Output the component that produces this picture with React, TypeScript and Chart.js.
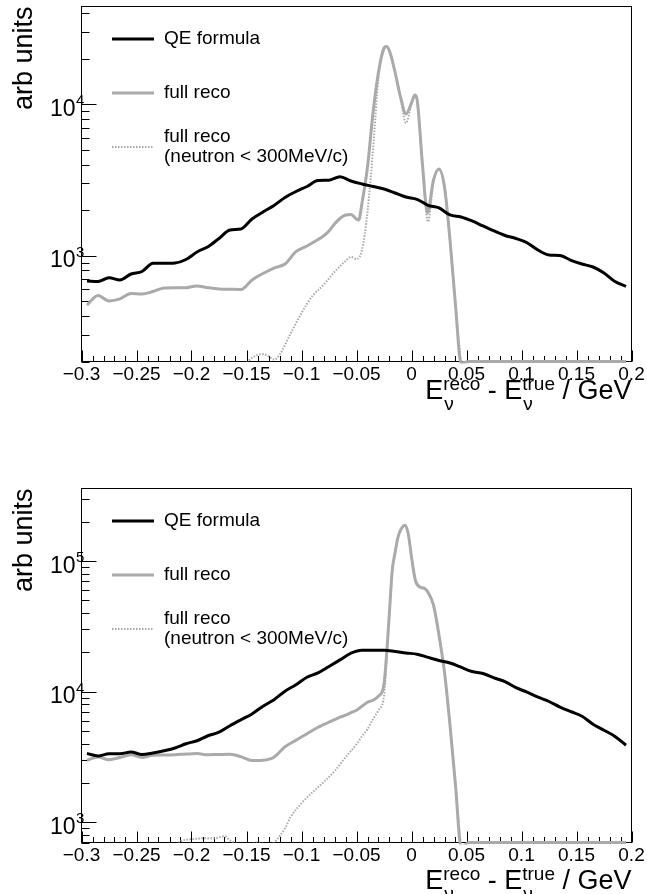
import React, { useEffect, useRef } from 'react';
import { Chart, registerables } from 'chart.js';

Chart.register(...registerables);

const FONT = "'Liberation Sans', Arial, Helvetica, sans-serif";
const GREY = '#aaaaaa';

// ---------- shared x bin centres for QE formula curves ----------
const qeX = [
  -0.295, -0.285, -0.275, -0.265, -0.255, -0.245, -0.235, -0.225, -0.215, -0.205,
  -0.195, -0.185, -0.175, -0.165, -0.155, -0.145, -0.135, -0.125, -0.115, -0.105,
  -0.095, -0.085, -0.075, -0.065, -0.055, -0.045, -0.035, -0.025, -0.015, -0.005,
  0.005, 0.015, 0.025, 0.035, 0.045, 0.055, 0.065, 0.075, 0.085, 0.095,
  0.105, 0.115, 0.125, 0.135, 0.145, 0.155, 0.165, 0.175, 0.185, 0.195,
];

// ---------- top panel ----------
const topQE = [
  681, 675, 716, 691, 757, 786, 891, 891, 895, 944,
  1058, 1147, 1299, 1478, 1501, 1747, 1944, 2146, 2423, 2655,
  2865, 3139, 3153, 3325, 3115, 2976, 2865, 2758, 2595, 2442,
  2358, 2152, 2066, 1857, 1801, 1695, 1571, 1456, 1360, 1299,
  1218, 1090, 1011, 1003, 932, 881, 842, 769, 675, 626,
];

const topRecoX = [
  -0.295, -0.285, -0.275, -0.265, -0.255, -0.245, -0.235, -0.225, -0.215, -0.205,
  -0.195, -0.185, -0.175, -0.165, -0.155, -0.145, -0.135, -0.125, -0.115, -0.105,
  -0.095, -0.085, -0.08, -0.075, -0.07, -0.065, -0.06, -0.055, -0.05, -0.048,
  -0.045, -0.04, -0.035, -0.03, -0.025, -0.023, -0.02, -0.015, -0.01, -0.005,
  0, 0.003, 0.005, 0.01, 0.0145, 0.02, 0.025, 0.03, 0.035, 0.04,
  0.045, 0.053, 0.075, 0.095, 0.115, 0.135, 0.155, 0.175, 0.195,
];
const topReco = [
  472, 546, 502, 518, 563, 558, 580, 612, 615, 615,
  631, 615, 603, 600, 598, 690, 763, 829, 881, 1063,
  1159, 1279, 1349, 1456, 1620, 1761, 1857, 1871, 1747, 1721,
  2229, 3854, 8761, 16340, 23540, 24080, 22490, 16340, 11175, 8629,
  10200, 11520, 10840, 3973, 1914, 3162, 3738, 2843, 1270, 472,
  196, 200, 200, 200, 200, 200, 200, 200, 200,
];

const topNeutronX = [
  -0.16, -0.15, -0.145, -0.14, -0.135, -0.13, -0.125, -0.12, -0.11, -0.1,
  -0.09, -0.08, -0.07, -0.06, -0.055, -0.05, -0.045, -0.04, -0.035, -0.03,
  -0.025, -0.023, -0.02, -0.015, -0.01, -0.005, 0, 0.003, 0.005, 0.01,
  0.015, 0.02, 0.025, 0.03, 0.035, 0.04, 0.045,
];
const topNeutron = [
  150, 195, 211, 221, 224, 217, 206, 221, 305, 418,
  542, 641, 780, 923, 980, 951, 1090, 1950, 4991, 15000,
  23000, 24000, 22490, 16340, 11000, 7524, 10000, 11400, 10700, 3900,
  1677, 3100, 3700, 2800, 1250, 465, 196,
];

// ---------- bottom panel ----------
const botQE = [
  3360, 3221, 3349, 3349, 3451, 3302, 3396, 3531, 3709, 3996,
  4213, 4601, 4894, 5489, 6101, 6760, 7744, 8683, 10090, 11315,
  12913, 13937, 15603, 17523, 19725, 20797, 20797, 20797, 20360, 19797,
  19384, 18316, 17340, 16593, 15410, 14283, 13791, 12779, 11930, 10732,
  9930, 9075, 8413, 7621, 7026, 6491, 5636, 5070, 4545, 3890,
];

const botRecoX = [
  -0.295, -0.285, -0.275, -0.265, -0.255, -0.245, -0.235, -0.225, -0.215, -0.205,
  -0.195, -0.185, -0.175, -0.165, -0.155, -0.145, -0.135, -0.125, -0.115, -0.105,
  -0.095, -0.085, -0.08, -0.075, -0.07, -0.065, -0.06, -0.055, -0.05, -0.045,
  -0.04, -0.035, -0.03, -0.025, -0.0225, -0.02, -0.0175, -0.015, -0.0125, -0.01,
  -0.006, -0.003, 0, 0.0035, 0.0075, 0.012, 0.015, 0.02, 0.025, 0.03,
  0.035, 0.04, 0.045, 0.053, 0.075, 0.095, 0.115, 0.135, 0.155, 0.175,
  0.195,
];
const botReco = [
  2987, 3166, 3013, 3132, 3290, 3132, 3261, 3272, 3290, 3331,
  3360, 3290, 3307, 3319, 3177, 2971, 2987, 3148, 3789, 4250,
  4766, 5346, 5586, 5838, 6101, 6377, 6606, 6904, 7215, 7744,
  8309, 8607, 9237, 11415, 20080, 41390, 85310, 115200, 150100, 172800,
  188700, 163000, 107900, 71530, 63540, 61770, 57870, 46010, 27100, 14110,
  5538, 1921, 650, 700, 700, 700, 700, 700, 700, 700,
  700,
];

const botNeutronX = [
  -0.22, -0.21, -0.2, -0.19, -0.18, -0.17, -0.165, -0.16, -0.15, -0.14,
  -0.13, -0.125, -0.12, -0.115, -0.11, -0.1, -0.09, -0.08, -0.07, -0.06,
  -0.05, -0.045, -0.04, -0.035, -0.03, -0.025, -0.0225, -0.02, -0.0175, -0.015,
  -0.0125, -0.01, -0.006, -0.003, 0, 0.0035, 0.0075, 0.012, 0.015, 0.02,
  0.025, 0.03, 0.035, 0.04, 0.045,
];
const botNeutron = [
  600, 715, 741, 753, 753, 781, 727, 690, 680, 700,
  670, 700, 781, 899, 1092, 1398, 1698, 2025, 2459, 3148,
  3960, 4560, 5159, 6156, 7215, 9237, 18000, 40000, 84000, 114000,
  149000, 171000, 187000, 161000, 106000, 70000, 62500, 61000, 57000, 45500,
  26800, 14000, 5500, 1900, 650,
];

const LEGEND_LABELS = ['QE formula', 'full reco', 'full reco\n(neutron < 300MeV/c)'];
const Y_TITLE = 'arb units';

interface Panel {
  qe: number[];
  recoX: number[];
  reco: number[];
  nX: number[];
  neutron: number[];
  yMin: number;
  yMax: number;
  padTop: number;
  xAxisH: number;
  titleDrop: number;
}

const panels: Panel[] = [
  { qe: topQE, recoX: topRecoX, reco: topReco, nX: topNeutronX, neutron: topNeutron,
    yMin: 200, yMax: 44250, padTop: 6.5, xAxisH: 85.5, titleDrop: 37 },
  { qe: botQE, recoX: botRecoX, reco: botReco, nX: botNeutronX, neutron: botNeutron,
    yMin: 700, yMax: 360000, padTop: 41.5, xAxisH: 51.5, titleDrop: 46 },
];

function fmtX(v: number): string {
  const r = Math.round(v * 1000) / 1000;
  if (r === 0) return '0';
  return (r < 0 ? '\u2212' : '') + String(Math.abs(r));
}

function makePlugin(p: Panel) {
  return {
    id: 'rootStyle',
    beforeDatasetsDraw(chart: any) {
      const { ctx, chartArea: a, scales } = chart;
      const xs = scales.x;
      const ys = scales.y;
      ctx.save();
      ctx.strokeStyle = '#000';
      ctx.lineWidth = 1;
      ctx.strokeRect(a.left, a.top, a.right - a.left, a.bottom - a.top);
      ctx.beginPath();
      const majors: number[] = xs.ticks.map((t: any) => t.value);
      for (let i = 0; i < majors.length; i++) {
        const px = Math.round(xs.getPixelForValue(majors[i])) + 0.5;
        ctx.moveTo(px, a.bottom);
        ctx.lineTo(px, a.bottom - 11);
        if (i < majors.length - 1) {
          for (let j = 1; j < 5; j++) {
            const v = majors[i] + ((majors[i + 1] - majors[i]) * j) / 5;
            const q = Math.round(xs.getPixelForValue(v)) + 0.5;
            ctx.moveTo(q, a.bottom);
            ctx.lineTo(q, a.bottom - 5.5);
          }
        }
      }
      const e0 = Math.floor(Math.log10(p.yMin));
      const e1 = Math.ceil(Math.log10(p.yMax));
      for (let e = e0; e <= e1; e++) {
        for (let m = 1; m <= 9; m++) {
          const v = m * Math.pow(10, e);
          if (v < p.yMin || v > p.yMax) continue;
          const py = Math.round(ys.getPixelForValue(v)) + 0.5;
          ctx.moveTo(a.left, py);
          ctx.lineTo(a.left + (m === 1 ? 15 : 8), py);
        }
      }
      ctx.stroke();

      // y tick labels 10^n
      ctx.fillStyle = '#000';
      ctx.textBaseline = 'alphabetic';
      for (let e = e0; e <= e1; e++) {
        const v = Math.pow(10, e);
        if (v < p.yMin || v > p.yMax) continue;
        const py = ys.getPixelForValue(v);
        ctx.font = `23px ${FONT}`;
        ctx.textAlign = 'right';
        ctx.fillText('10', 75.5, py + 11.5);
        ctx.font = `15px ${FONT}`;
        ctx.textAlign = 'left';
        ctx.fillText(String(e), 76, py + 1);
      }
      ctx.restore();
    },
    afterDraw(chart: any) {
      const { ctx, chartArea: a } = chart;
      ctx.save();
      ctx.fillStyle = '#000';
      // y title
      ctx.save();
      ctx.translate(32, a.top);
      ctx.rotate(-Math.PI / 2);
      ctx.font = `27px ${FONT}`;
      ctx.textAlign = 'right';
      ctx.textBaseline = 'alphabetic';
      ctx.fillText(Y_TITLE, 0, 0);
      ctx.restore();

      // x title: E_nu^reco - E_nu^true / GeV
      const big = `27px ${FONT}`;
      const small = `19px ${FONT}`;
      const base = a.bottom + p.titleDrop;
      const parts: Array<{ t?: string; sup?: string; sub?: string }> = [
        { t: 'E' }, { sup: 'reco', sub: '\u03bd' }, { t: ' - E' }, { sup: 'true', sub: '\u03bd' }, { t: ' / GeV' },
      ];
      const widths = parts.map((pt) => {
        if (pt.t) { ctx.font = big; return ctx.measureText(pt.t).width; }
        ctx.font = small;
        return Math.max(ctx.measureText(pt.sup!).width, ctx.measureText(pt.sub!).width);
      });
      let x = a.right - widths.reduce((s, w) => s + w, 0);
      ctx.textAlign = 'left';
      ctx.textBaseline = 'alphabetic';
      parts.forEach((pt, i) => {
        if (pt.t) {
          ctx.font = big;
          ctx.fillText(pt.t, x, base);
        } else {
          ctx.font = small;
          ctx.fillText(pt.sup!, x, base - 9);
          ctx.fillText(pt.sub!, x + 1, base + 11);
        }
        x += widths[i];
      });

      // legend
      const ds = chart.data.datasets;
      const rows = [32.5, 86.5, 140.5];
      ds.forEach((d: any, i: number) => {
        const y = a.top + rows[i];
        ctx.save();
        ctx.strokeStyle = d.borderColor;
        ctx.lineWidth = d.borderWidth;
        ctx.setLineDash(d.borderDash || []);
        ctx.beginPath();
        ctx.moveTo(112, y);
        ctx.lineTo(154, y);
        ctx.stroke();
        ctx.restore();
        ctx.font = `19px ${FONT}`;
        ctx.textAlign = 'left';
        ctx.textBaseline = 'middle';
        const lines = String(d.label).split('\n');
        lines.forEach((ln, k) => {
          const off = lines.length === 1 ? 0 : (k - (lines.length - 1) / 2) * 20.5;
          ctx.fillText(ln, 164, y + off);
        });
      });
      ctx.restore();
    },
  };
}

function makeConfig(p: Panel): any {
  const pts = (xs: number[], ys: number[]) => xs.map((x, i) => ({ x, y: ys[i] }));
  return {
    type: 'line',
    data: {
      datasets: [
        { label: LEGEND_LABELS[0], data: pts(qeX, p.qe), borderColor: '#000000', borderWidth: 3,
          pointRadius: 0, cubicInterpolationMode: 'monotone', fill: false },
        { label: LEGEND_LABELS[1], data: pts(p.recoX, p.reco), borderColor: GREY, borderWidth: 3,
          pointRadius: 0, cubicInterpolationMode: 'monotone', fill: false,
          clip: { left: 0, top: 0, right: 0, bottom: 2 } },
        { label: LEGEND_LABELS[2], data: pts(p.nX, p.neutron), borderColor: GREY, borderWidth: 2,
          borderDash: [1.5, 1.5], pointRadius: 0, cubicInterpolationMode: 'monotone', fill: false, clip: 0 },
      ],
    },
    options: {
      responsive: false,
      animation: false,
      devicePixelRatio: 1,
      layout: { padding: { left: 0, right: 15.5, top: p.padTop, bottom: 0 } },
      plugins: { legend: { display: false }, tooltip: { enabled: false } },
      scales: {
        x: {
          type: 'linear', min: -0.3, max: 0.2,
          grid: { display: false, drawTicks: false },
          border: { display: false },
          ticks: {
            stepSize: 0.05, autoSkip: false, maxRotation: 0, padding: 2, color: '#000',
            font: { family: FONT, size: 19 },
            callback: (v: number) => fmtX(v),
          },
          afterFit: (s: any) => { s.height = p.xAxisH; s.paddingLeft = 0; s.paddingRight = 0; },
        },
        y: {
          type: 'logarithmic', min: p.yMin, max: p.yMax,
          grid: { display: false, drawTicks: false },
          border: { display: false },
          ticks: { display: false },
          afterFit: (s: any) => { s.width = 81.5; s.paddingTop = 0; s.paddingBottom = 0; },
        },
      },
    },
    plugins: [makePlugin(p)],
  };
}

export default function App() {
  const topRef = useRef<HTMLCanvasElement>(null);
  const botRef = useRef<HTMLCanvasElement>(null);
  useEffect(() => {
    const charts: Chart[] = [];
    [topRef, botRef].forEach((r, i) => {
      if (r.current) charts.push(new Chart(r.current, makeConfig(panels[i])));
    });
    return () => charts.forEach((c) => c.destroy());
  }, []);
  return (
    <div style={{ position: 'absolute', left: 0, top: 0, width: 647, height: 894, background: '#fff', overflow: 'hidden' }}>
      <canvas ref={topRef} width={647} height={447} style={{ position: 'absolute', left: 0, top: 0 }} />
      <canvas ref={botRef} width={647} height={447} style={{ position: 'absolute', left: 0, top: 447 }} />
    </div>
  );
}
